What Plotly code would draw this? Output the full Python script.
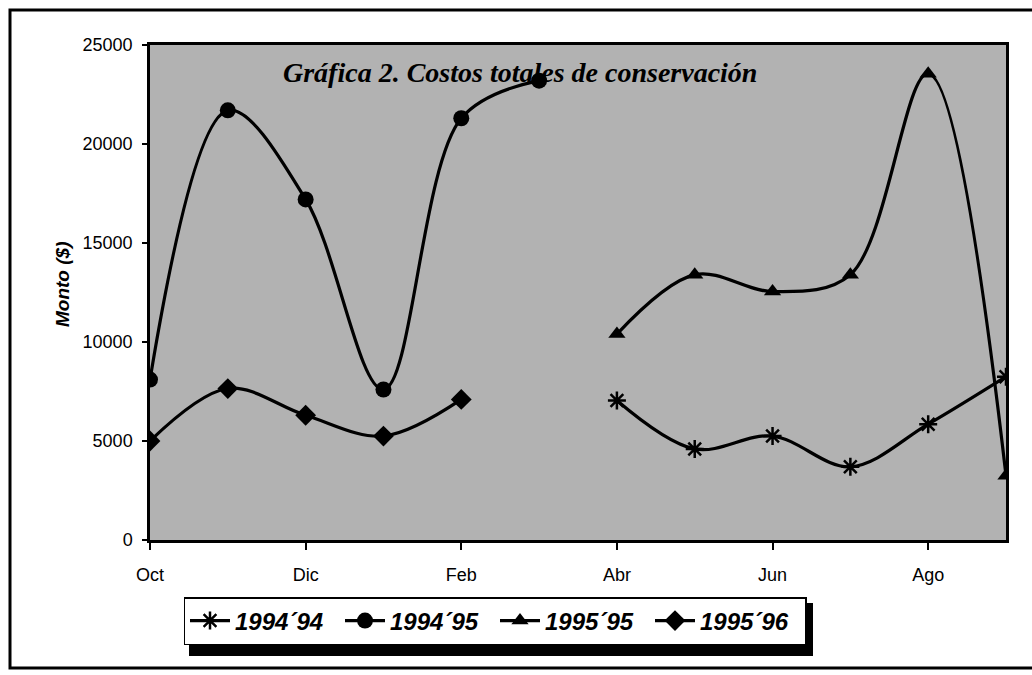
import plotly.graph_objects as go

months = ["Oct", "Nov", "Dic", "Ene", "Feb", "Mar", "Abr", "May", "Jun", "Jul", "Ago", "Sep"]
tick_labels = ["Oct", "Dic", "Feb", "Abr", "Jun", "Ago"]

s_1994_94 = [None, None, None, None, None, None, 7050, 4600, 5250, 3700, 5850, 8250]
s_1994_95 = [8100, 21700, 17200, 7600, 21300, 23200, None, None, None, None, None, None]
s_1995_95 = [None, None, None, None, None, None, 10400, 13400, 12550, 13400, 23550, 3250]
s_1995_96 = [5000, 7650, 6300, 5250, 7100, None, None, None, None, None, None, None]

names = ["1994´94", "1994´95", "1995´95", "1995´96"]
series = [s_1994_94, s_1994_95, s_1995_95, s_1995_96]
symbols = ["asterisk-open", "circle", "triangle-up", "diamond"]
msizes = [15, 16, 15, 16]

W, H = 1032, 675
L, R, T, B = 150, 26, 45, 135
PW, PH = W - L - R, H - T - B


def px(x):
    return (x - L) / PW


def py(y):
    return (H - B - y) / PH


fig = go.Figure()
for name, vals, sym, ms in zip(names, series, symbols, msizes):
    fig.add_trace(go.Scatter(
        x=months, y=vals, name=name, mode="lines+markers",
        line=dict(color="black", width=3.2, shape="spline", smoothing=1),
        marker=dict(symbol=sym, size=ms, color="black",
                    line=dict(color="black", width=2.5 if sym == "asterisk-open" else 0)),
        connectgaps=False,
    ))

fig.update_layout(
    width=W, height=H,
    margin=dict(l=L, r=R, t=T, b=B),
    paper_bgcolor="white",
    plot_bgcolor="#b2b2b2",
    showlegend=True,
    legend=dict(
        orientation="h", x=px(495), xanchor="center", y=py(597), yanchor="top",
        bgcolor="white", bordercolor="black", borderwidth=1.5,
        font=dict(family="Liberation Sans, Arial", size=24, color="black",
                  style="italic", weight="bold"),
        entrywidth=100, itemwidth=40,
    ),
    xaxis=dict(
        type="category", range=[0, 11],
        tickvals=tick_labels, ticktext=tick_labels,
        ticks="outside", ticklen=7, tickwidth=1.5, tickcolor="black",
        ticklabelstandoff=10,
        tickfont=dict(family="Liberation Sans, Arial", size=18, color="black"),
        showline=True, linecolor="black", linewidth=2.5, mirror=True,
        showgrid=False, zeroline=False,
    ),
    yaxis=dict(
        range=[0, 25000], dtick=5000, tickformat="d",
        ticks="outside", ticklen=5, tickwidth=1.5, tickcolor="black",
        ticklabelstandoff=6,
        tickfont=dict(family="Liberation Sans, Arial", size=18, color="black"),
        showline=True, linecolor="black", linewidth=2.5, mirror=True,
        showgrid=False, zeroline=False,
    ),
    shapes=[
        # outer chart border
        dict(type="rect", xref="paper", yref="paper",
             x0=px(10), x1=px(1045), y0=py(668), y1=py(10),
             line=dict(color="black", width=3), fillcolor="rgba(0,0,0,0)"),
        # legend shadow
        dict(type="rect", xref="paper", yref="paper",
             x0=px(189), x1=px(813), y0=py(656), y1=py(603),
             line=dict(color="black", width=0), fillcolor="black"),
    ],
    annotations=[
        dict(text="Gráfica 2. Costos totales de conservación",
             xref="paper", yref="paper", x=px(520), y=py(72),
             xanchor="center", yanchor="middle", showarrow=False,
             font=dict(family="Liberation Serif, Times New Roman", size=28,
                       color="black", style="italic", weight="bold")),
        dict(text="Monto ($)", xref="paper", yref="paper", x=px(62), y=py(285),
             xanchor="center", yanchor="middle", textangle=-90, showarrow=False,
             font=dict(family="Liberation Sans, Arial", size=19, color="black",
                       style="italic", weight="bold")),
    ],
)

fig.write_html("out.html", config={"displayModeBar": False},
               post_script="document.body.style.margin='0px';")
